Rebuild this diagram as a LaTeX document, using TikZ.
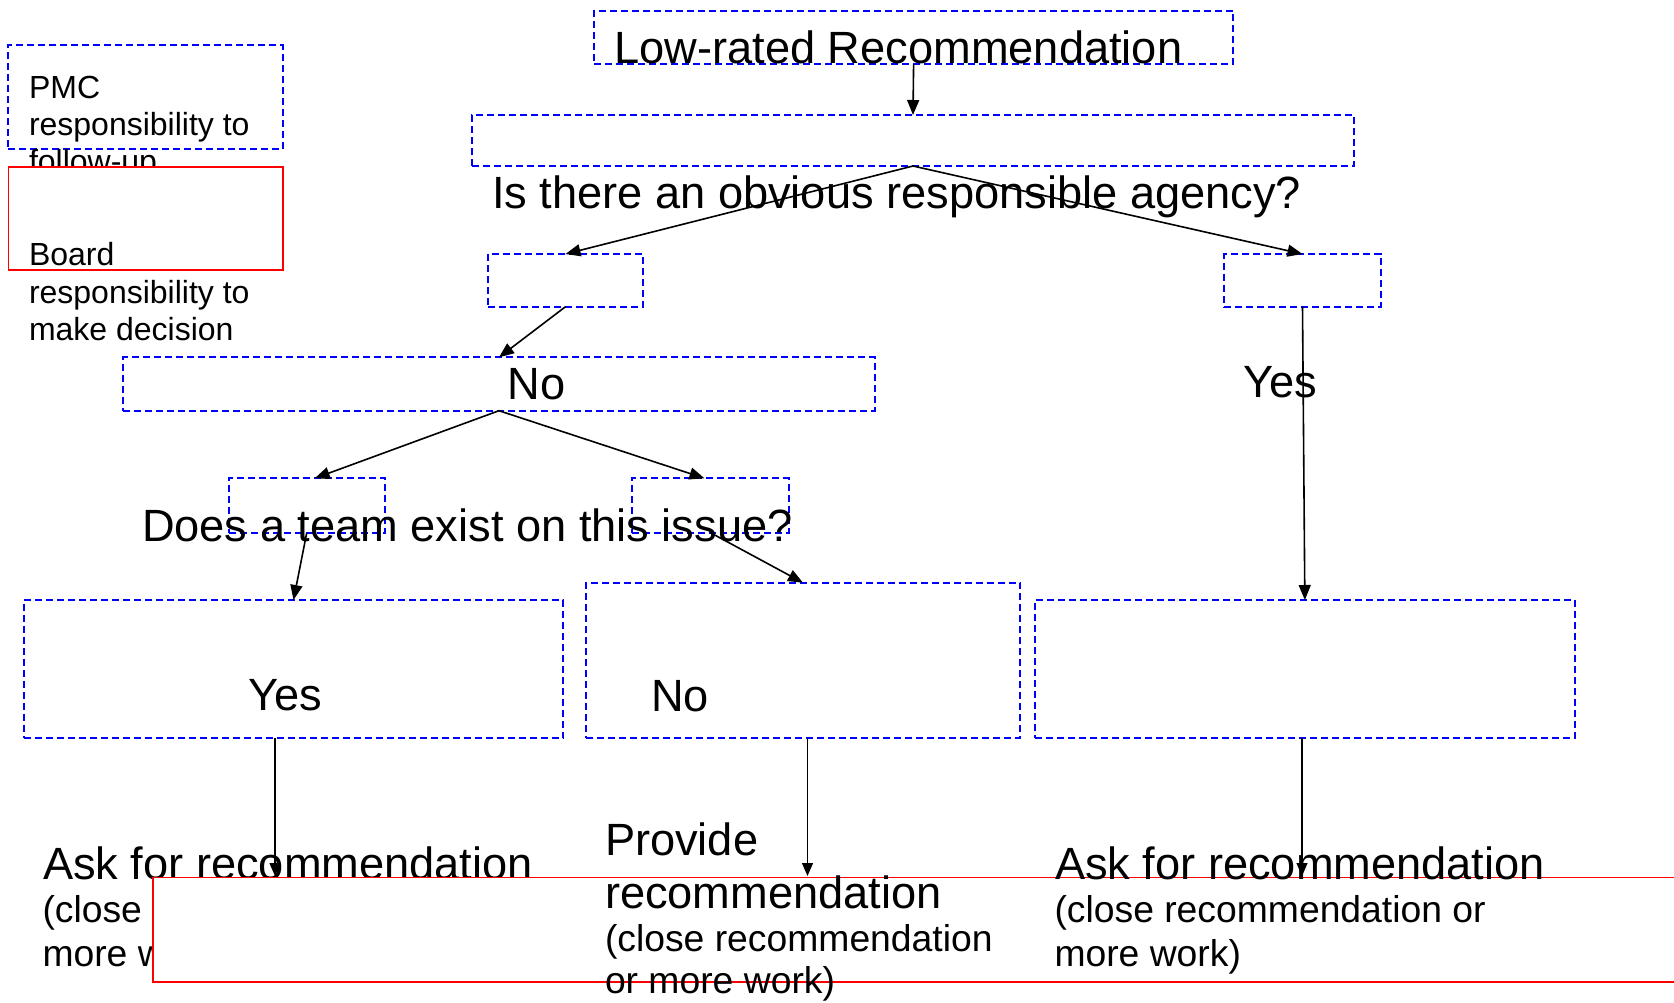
\documentclass[tikz,border=0pt]{standalone}
\usepackage{fontspec}
\setmainfont{Liberation Sans}
\usetikzlibrary{arrows.meta}
\newcommand\fntL{\fontsize{45.2}{52}\selectfont}
\newcommand\fntM{\fontsize{37.3}{43}\selectfont}
\newcommand\fntS{\fontsize{32}{37}\selectfont}
\begin{document}
\begin{tikzpicture}[x=1pt,y=-1pt,
  bluebox/.style={draw=blue, line width=2pt, dash pattern=on 7pt off 4pt, inner sep=0pt, outer sep=0pt, anchor=north west},
  redbox/.style={draw=red, line width=1.6pt, fill=white, inner sep=0pt, outer sep=0pt, anchor=north west},
  txt/.style={inner sep=0pt, outer sep=0pt, anchor=base west, text=black},
  arr/.style={draw=black, line width=1.6pt, -{Triangle[length=15pt,width=12pt]}},
  arrthin/.style={draw=black, line width=1.3pt, -{Triangle[length=13pt,width=11pt]}}
]
\useasboundingbox (0,0) rectangle (1674,1002);
\clip (0,0) rectangle (1674,1002);
\fill[white] (0,0) rectangle (1674,1002);

% legend
\node[bluebox, minimum width=274.4pt, minimum height=104.3pt] (lgB) at (8.3,45) {};
\node[txt, font=\fntS] (lg1) at (29,98.3) {PMC};
\node[txt, font=\fntS] (lg2) at (29,135) {responsibility to};
\node[txt, font=\fntS] (lg3) at (29,172) {follow-up};
\node[redbox, minimum width=274.4pt, minimum height=103.3pt] (lgR) at (8.3,166.7) {};
\node[txt, font=\fntS] (lg4) at (29,265) {Board};
\node[txt, font=\fntS] (lg5) at (29,303) {responsibility to};
\node[txt, font=\fntS] (lg6) at (29,340) {make decision};

% flow boxes
\node[bluebox, minimum width=639.2pt, minimum height=53.3pt] (A) at (594,10.7) {};
\node[bluebox, minimum width=882pt, minimum height=51pt] (B) at (472,115) {};
\node[bluebox, minimum width=155pt, minimum height=52.7pt] (C) at (488,254) {};
\node[bluebox, minimum width=156.4pt, minimum height=52.7pt] (D) at (1224.3,254) {};
\node[bluebox, minimum width=751.2pt, minimum height=53.4pt] (E) at (123.4,357.3) {};
\node[bluebox, minimum width=156.5pt, minimum height=54.4pt] (F) at (228.5,478.3) {};
\node[bluebox, minimum width=156.3pt, minimum height=54.4pt] (G) at (632.3,478.3) {};
\node[bluebox, minimum width=539.6pt, minimum height=138.3pt] (I) at (23.7,600) {};
\node[bluebox, minimum width=434pt, minimum height=155.6pt] (J) at (586,582.7) {};
\node[bluebox, minimum width=539.7pt, minimum height=138.3pt] (H) at (1035,600) {};

% texts
\node[txt, font=\fntL] (tA) at (614.5,63.3) {Low-rated Recommendation};
\node[txt, font=\fntL] (tB) at (492,208) {Is there an obvious responsible agency?};
\node[txt, font=\fntL] (tE) at (507.5,399.3) {No};
\node[txt, font=\fntL] (tY) at (1243,397.7) {Yes};
\node[txt, font=\fntL] (tQ) at (142,541.7) {Does a team exist on this issue?};
\node[txt, font=\fntL] (tI) at (248,710.7) {Yes};
\node[txt, font=\fntL] (tJ) at (651.3,711.7) {No};

% left column text (partly hidden by the red box)
\node[txt, font=\fntL] (l1) at (43,879) {Ask for recommendation};
\node[txt, font=\fntM] (l2) at (42.5,922) {(close recommendation or};
\node[txt, font=\fntM] (l3) at (42.5,966) {more work)};

% bottom red box
\node[redbox, minimum width=1547.3pt, minimum height=104.4pt] (R) at (152.7,877.3) {};

% middle and right column text
\node[txt, font=\fntL] (m1) at (605,855) {Provide};
\node[txt, font=\fntL] (m2) at (605,908) {recommendation};
\node[txt, font=\fntM] (m3) at (605,951) {(close recommendation};
\node[txt, font=\fntM] (m4) at (605,993) {or more work)};
\node[txt, font=\fntL] (r1) at (1055,879) {Ask for recommendation};
\node[txt, font=\fntM] (r2) at (1054.5,922) {(close recommendation or};
\node[txt, font=\fntM] (r3) at (1054.5,966) {more work)};

% connectors
\draw[arr] (A.south) -- (B.north);
\draw[arr] (B.south) -- (C.north);
\draw[arr] (B.south) -- (D.north);
\draw[arr] (C.south) -- (E.north);
\draw[arr] (D.south) -- (H.north);
\draw[arr] (E.south) -- ([xshift=8pt]F.north);
\draw[arr] (E.south) -- ([xshift=-6pt]G.north);
\draw[arr] (F.south) -- (I.north);
\draw[arr] (G.south) -- (J.north);

\coordinate (eL) at (275,876);
\coordinate (eM) at (807.5,876);
\coordinate (eR) at (1302,876);
\draw[arrthin] (I.south -| eL) -- (eL);
\draw[arrthin] (J.south -| eM) -- (eM);
\draw[arrthin] (H.south -| eR) -- (eR);
\end{tikzpicture}
\end{document}
